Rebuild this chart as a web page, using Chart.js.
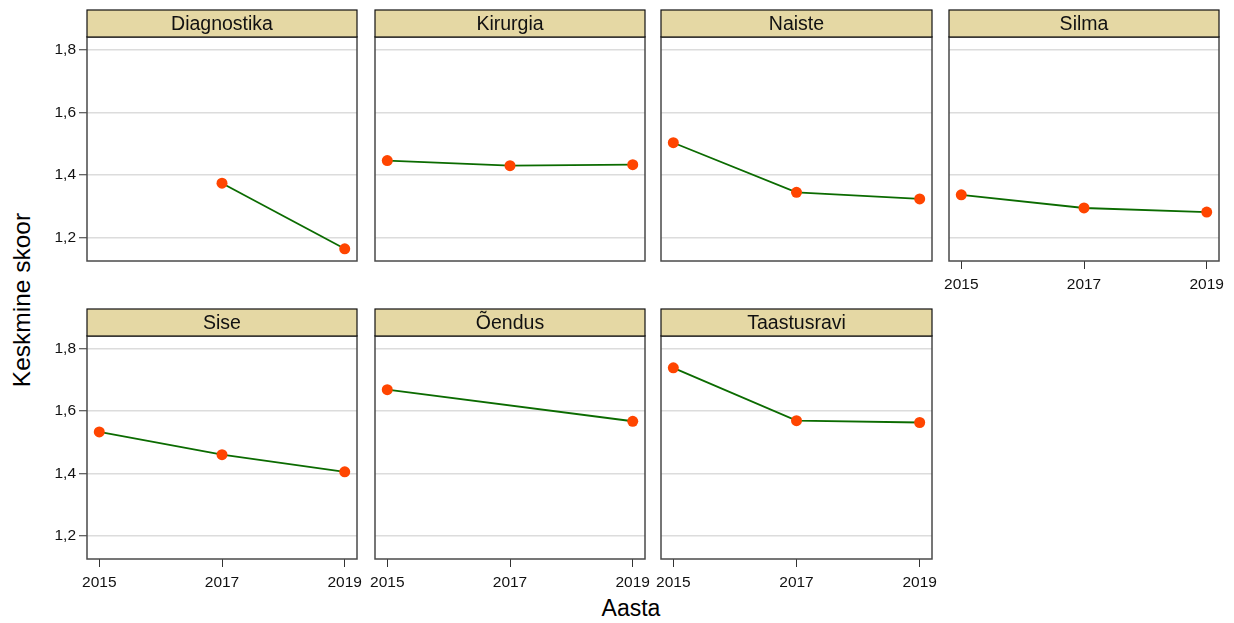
<!DOCTYPE html>
<html>
<head>
<meta charset="utf-8">
<script src="https://cdn.jsdelivr.net/npm/chart.js@4"></script>
<style>
  body { margin: 0; background: #fff; width: 1234px; height: 623px; position: relative; overflow: hidden; font-family: "Liberation Sans", Arial, sans-serif; }
  canvas { position: absolute; }
  .axis-title { position: absolute; font-size: 23px; color: #000; white-space: nowrap; }
</style>
</head>
<body>
<div class="axis-title" id="ytitle" style="left:22px; top:300px; font-size:24.5px; transform: translate(-50%, -50%) rotate(-90deg);">Keskmine skoor</div>
<div class="axis-title" style="left:631px; top:608px; transform: translate(-50%, -50%);">Aasta</div>
<script>
// Average score by year, one small panel per department
const years = [2015, 2017, 2019];
const departments = ['Diagnostika', 'Kirurgia', 'Naiste', 'Silma', 'Sise', 'Õendus', 'Taastusravi'];
const diagnostika = [null, 1.374, 1.165];
const kirurgia = [1.446, 1.430, 1.433];
const naiste = [1.503, 1.345, 1.324];
const silma = [1.337, 1.295, 1.282];
const sise = [1.533, 1.460, 1.405];
const oendus = [1.668, null, 1.567];
const taastusravi = [1.738, 1.569, 1.563];
const yTicks = [1.2, 1.4, 1.6, 1.8];

const series = [diagnostika, kirurgia, naiste, silma, sise, oendus, taastusravi];

// panel grid geometry
const colLeft = [87, 375, 661, 949];
const colRight = [357, 645, 932, 1219];
const rowTop = [10, 309];      // top of header strip
const rowBottom = [261, 559];  // bottom of plot area
const stripH = 27;
const padL = 60, padR = 25, padB = 40, padT = 2;

const stripPlugin = {
  id: 'strip',
  afterDraw(chart, args, opts) {
    const { ctx, chartArea: a } = chart;
    ctx.save();
    // frame around the plot
    ctx.strokeStyle = '#4a4a4a';
    ctx.lineWidth = 1.5;
    ctx.strokeRect(a.left, a.top, a.right - a.left, a.bottom - a.top);
    // header strip
    ctx.fillStyle = '#e5d8a4';
    ctx.fillRect(a.left, a.top - stripH, a.right - a.left, stripH);
    ctx.strokeStyle = '#111';
    ctx.lineWidth = 1.2;
    ctx.strokeRect(a.left, a.top - stripH, a.right - a.left, stripH);
    ctx.fillStyle = '#111';
    ctx.font = '19.5px "Liberation Sans", Arial, sans-serif';
    ctx.textAlign = 'center';
    ctx.textBaseline = 'middle';
    ctx.fillText(opts.text, (a.left + a.right) / 2, a.top - stripH / 2 + 1);
    ctx.restore();
  }
};

departments.forEach(function(name, i) {
  const row = i < 4 ? 0 : 1;
  const col = i % 4;
  const showX = row === 1 || col === 3;
  const showY = col === 0;
  const pw = colRight[col] - colLeft[col];
  const ph = rowBottom[row] - (rowTop[row] + stripH);

  const canvas = document.createElement('canvas');
  const w = padL + pw + padR;
  const h = padT + stripH + ph + padB;
  canvas.width = w;
  canvas.height = h;
  canvas.style.width = w + 'px';
  canvas.style.height = h + 'px';
  canvas.style.left = (colLeft[col] - padL) + 'px';
  canvas.style.top = (rowTop[row] - padT) + 'px';
  document.body.appendChild(canvas);

  const points = years.map(function(yr, k) { return { x: yr, y: series[i][k] }; })
    .filter(function(p) { return p.y !== null; });

  new Chart(canvas, {
    type: 'line',
    data: {
      datasets: [{
        label: name,
        data: points,
        borderColor: '#0b6b00',
        borderWidth: 1.8,
        pointBackgroundColor: '#ff4500',
        pointBorderColor: '#ff4500',
        pointRadius: 5.5,
        pointBorderWidth: 0,
        tension: 0
      }]
    },
    options: {
      responsive: false,
      animation: false,
      layout: { autoPadding: false, padding: { top: padT + stripH, right: padR, left: 0, bottom: 0 } },
      plugins: {
        legend: { display: false },
        tooltip: { enabled: false },
        strip: { text: name }
      },
      scales: {
        x: {
          type: 'linear',
          min: 2014.8,
          max: 2019.2,
          afterBuildTicks: function(s) { s.ticks = years.map(function(v) { return { value: v }; }); },
          afterFit: function(s) { s.height = padB; },
          border: { display: false },
          grid: { drawOnChartArea: false, drawTicks: showX, tickLength: 8, tickColor: '#333', lineWidth: 1 },
          ticks: {
            display: showX,
            maxRotation: 0,
            autoSkip: false,
            padding: 6,
            color: '#111',
            font: { family: '"Liberation Sans", Arial, sans-serif', size: 15.5 },
            callback: function(v) { return String(v); }
          }
        },
        y: {
          min: 1.126,
          max: 1.84,
          afterBuildTicks: function(s) { s.ticks = yTicks.map(function(v) { return { value: v }; }); },
          afterFit: function(s) { s.width = padL; },
          border: { display: false },
          grid: { color: '#dcdcdc', lineWidth: 1.5, drawTicks: showY, tickLength: 8, tickColor: '#333', tickWidth: 1 },
          ticks: {
            display: showY,
            padding: 3,
            color: '#111',
            font: { family: '"Liberation Sans", Arial, sans-serif', size: 15.5 },
            callback: function(v) { return v.toFixed(1).replace('.', ','); }
          }
        }
      }
    },
    plugins: [stripPlugin]
  });
});
</script>
</body>
</html>
